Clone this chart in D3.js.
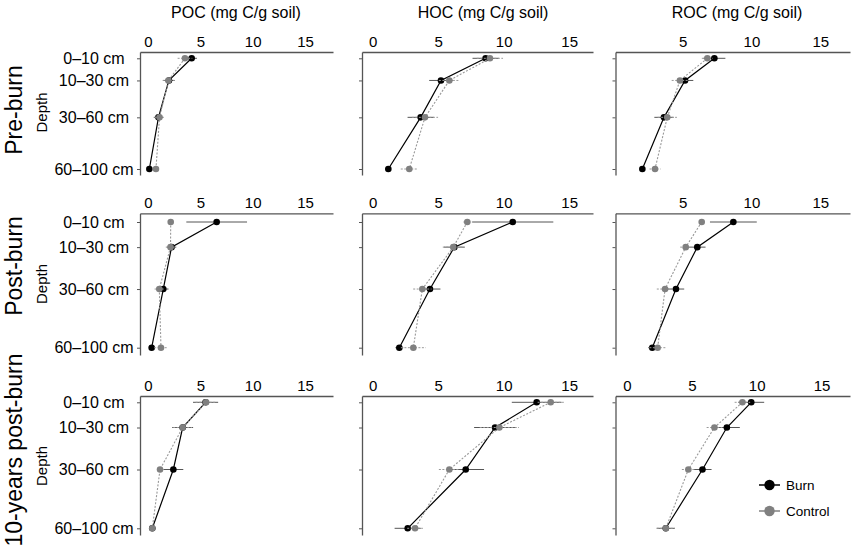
<!DOCTYPE html>
<html>
<head>
<meta charset="utf-8">
<script src="https://cdn.jsdelivr.net/npm/d3@7"></script>
<style>
  body { margin: 0; background: #fff; }
  svg { font-family: "Liberation Sans", Arial, Helvetica, sans-serif; }
</style>
</head>
<body>
<svg id="chart" width="851" height="552"></svg>
<script>
// ---- data ----
var periods = ["Pre-burn", "Post-burn", "10-years post-burn"];
var fractions = ["POC", "HOC", "ROC"];
var depthLabels = ["0\u201310 cm", "10\u201330 cm", "30\u201360 cm", "60\u2013100 cm"];
var depthMid = [5, 20, 45, 80];
var xTicks = [0, 5, 10, 15];
var treatments = ["Burn", "Control"];

// rows = periods, columns = depths
var burnPOC    = [[4.17, 2.0, 1.0, 0.13], [6.56, 2.25, 1.46, 0.35], [5.5, 3.31, 2.42, 0.41]];
var controlPOC = [[3.53, 1.95, 1.1, 0.76], [2.17, 2.15, 1.08, 1.24], [5.55, 3.31, 1.15, 0.41]];
var burnPOCse    = [[0.5, 0.55, 0.45, 0.1], [2.9, 0.45, 0.5, 0.1], [1.2, 1.0, 0.95, 0.15]];
var controlPOCse = [[0.7, 0.55, 0.45, 0.15], [0.1, 0.45, 0.45, 0.65], [1.0, 0.9, 0.2, 0.15]];

var burnHOC    = [[8.62, 5.21, 3.66, 1.19], [10.69, 6.23, 4.37, 2.03], [12.52, 9.34, 7.1, 2.67]];
var controlHOC = [[8.95, 5.85, 3.99, 2.79], [7.22, 6.15, 3.79, 3.1], [13.59, 9.67, 5.85, 3.23]];
var burnHOCse    = [[1.0, 0.9, 1.0, 0.2], [3.1, 0.8, 0.8, 0.3], [1.9, 1.6, 1.4, 1.0]];
var controlHOCse = [[1.0, 0.8, 1.0, 0.65], [0.3, 0.8, 0.7, 0.95], [1.0, 1.5, 0.8, 0.6]];

var burnROC    = [[7.31, 5.18, 3.65, 2.08], [8.69, 6.07, 4.52, 2.8], [9.58, 7.7, 5.82, 2.99]];
var controlROC = [[6.8, 4.81, 3.89, 3.0], [6.39, 5.23, 3.73, 3.19], [8.9, 6.74, 4.73, 2.99]];
var burnROCse    = [[0.8, 0.6, 0.7, 0.2], [1.7, 0.6, 0.6, 0.3], [1.0, 1.0, 0.7, 0.7]];
var controlROCse = [[0.4, 0.6, 0.7, 0.4], [0.2, 0.4, 0.6, 0.6], [0.6, 0.6, 0.5, 0.7]];

var means = {
  POC: [burnPOC, controlPOC], HOC: [burnHOC, controlHOC], ROC: [burnROC, controlROC]
};
var errs = {
  POC: [burnPOCse, controlPOCse], HOC: [burnHOCse, controlHOCse], ROC: [burnROCse, controlROCse]
};

// ---- layout ----
var colX = [[140, 333], [362, 593], [615.5, 850]];
// x domains of each panel (row, col)
var xDom = [
  [[-0.764, 17.67], [-0.82, 16.82], [0.13, 17.16]],
  [[-0.764, 17.67], [-0.82, 16.82], [0.13, 17.16]],
  [[-0.764, 17.67], [-0.82, 16.82], [-0.89, 17.2]]
];
// per row: y of depth 5, y of depth 80, axis top, axis bottom
var rowY = [
  {y5: 58.3, y80: 169, top: 52, bottom: 175, label: 110, depth: 112.5},
  {y5: 222, y80: 347.7, top: 213.3, bottom: 355, label: 266, depth: 284},
  {y5: 402.3, y80: 528.3, top: 396, bottom: 535, label: 450, depth: 466}
];
var titleX = [236, 483, 737];

var colors = {Burn: "#000", Control: "#808080"};
var axisColor = "#555";

var svg = d3.select("#chart");

// column titles
svg.selectAll("text.coltitle").data(fractions).enter().append("text")
  .attr("class", "coltitle")
  .attr("x", function(d, i){ return titleX[i]; })
  .attr("y", 17.5)
  .attr("text-anchor", "middle")
  .attr("font-size", 16)
  .text(function(d){ return d + " (mg C/g soil)"; });

periods.forEach(function(period, r) {
  var ry = rowY[r];

  // row label
  svg.append("text")
    .attr("transform", "translate(13.5," + ry.label + ") rotate(-90)")
    .attr("text-anchor", "middle")
    .attr("dy", "0.35em")
    .attr("font-size", 23)
    .text(period);

  svg.append("text")
    .attr("transform", "translate(41.5," + ry.depth + ") rotate(-90)")
    .attr("text-anchor", "middle")
    .attr("dy", "0.35em")
    .attr("font-size", 15)
    .text("Depth");

  var y = d3.scaleLinear().domain([5, 80]).range([ry.y5, ry.y80]);
  y.domain([y.invert(ry.top), y.invert(ry.bottom)]).range([ry.top, ry.bottom]);

  // depth labels (left column only)
  svg.selectAll("text.depth" + r).data(depthLabels).enter().append("text")
    .attr("class", "depth" + r)
    .attr("x", 94)
    .attr("y", function(d, i){ return y(depthMid[i]); })
    .attr("dy", "0.35em")
    .attr("text-anchor", "middle")
    .attr("font-size", 16)
    .text(function(d){ return d; });

  fractions.forEach(function(frac, c) {
    var dom = xDom[r][c];
    var x = d3.scaleLinear().domain(dom).range(colX[c]);
    var g = svg.append("g");

    var xAxis = d3.axisTop(x)
      .tickValues(xTicks.filter(function(t){ return t >= dom[0] && t <= dom[1]; }))
      .tickSizeInner(0).tickSizeOuter(0).tickPadding(5);
    var gx = g.append("g").attr("transform", "translate(0," + ry.top + ")").call(xAxis);
    gx.select(".domain").attr("stroke", axisColor).attr("stroke-width", 1.3);
    gx.selectAll("text").attr("font-size", 15).attr("fill", "#000")
      .attr("font-family", "Liberation Sans, Arial, sans-serif");

    var yAxis = d3.axisLeft(y).tickValues(depthMid).tickFormat("")
      .tickSizeInner(3).tickSizeOuter(0);
    var gy = g.append("g").attr("transform", "translate(" + colX[c][0] + ",0)").call(yAxis);
    gy.select(".domain").attr("stroke", axisColor).attr("stroke-width", 1.3);
    gy.selectAll(".tick line").attr("stroke", axisColor).attr("stroke-width", 1);

    treatments.forEach(function(tr, k) {
      var vals = means[frac][k][r];
      var se = errs[frac][k][r];
      var pts = vals.map(function(v, i){ return {v: v, se: se[i], d: depthMid[i]}; });

      var line = d3.line().x(function(p){ return x(p.v); }).y(function(p){ return y(p.d); });
      g.append("path").datum(pts)
        .attr("fill", "none")
        .attr("stroke", k === 0 ? "#000" : "#999")
        .attr("stroke-width", k === 0 ? 1.2 : 1.1)
        .attr("stroke-dasharray", k === 0 ? null : "2,1.6")
        .attr("d", line);

      g.selectAll("line.err" + k).data(pts).enter().append("line")
        .attr("class", "err" + k)
        .attr("x1", function(p){ return x(p.v - p.se); })
        .attr("x2", function(p){ return x(p.v + p.se); })
        .attr("y1", function(p){ return y(p.d); })
        .attr("y2", function(p){ return y(p.d); })
        .attr("stroke", k === 0 ? "#555" : "#999")
        .attr("stroke-width", 1)
        .attr("stroke-dasharray", k === 0 ? null : "2,1.5");

      g.selectAll("circle.pt" + k).data(pts).enter().append("circle")
        .attr("class", "pt" + k)
        .attr("cx", function(p){ return x(p.v); })
        .attr("cy", function(p){ return y(p.d); })
        .attr("r", 3.3)
        .attr("fill", colors[tr]);
    });
  });
});

// legend
var legend = svg.append("g").attr("transform", "translate(759,485)");
treatments.forEach(function(tr, k) {
  var lg = legend.append("g").attr("transform", "translate(0," + (k * 26) + ")");
  lg.append("line").attr("x1", 0).attr("x2", 21).attr("y1", 0).attr("y2", 0)
    .attr("stroke", colors[tr]).attr("stroke-width", 1.5);
  lg.append("circle").attr("cx", 10.5).attr("cy", 0).attr("r", 5.2).attr("fill", colors[tr]);
  lg.append("text").attr("x", 27).attr("y", 0).attr("dy", "0.35em")
    .attr("font-size", 13.5).text(tr);
});
</script>
</body>
</html>
